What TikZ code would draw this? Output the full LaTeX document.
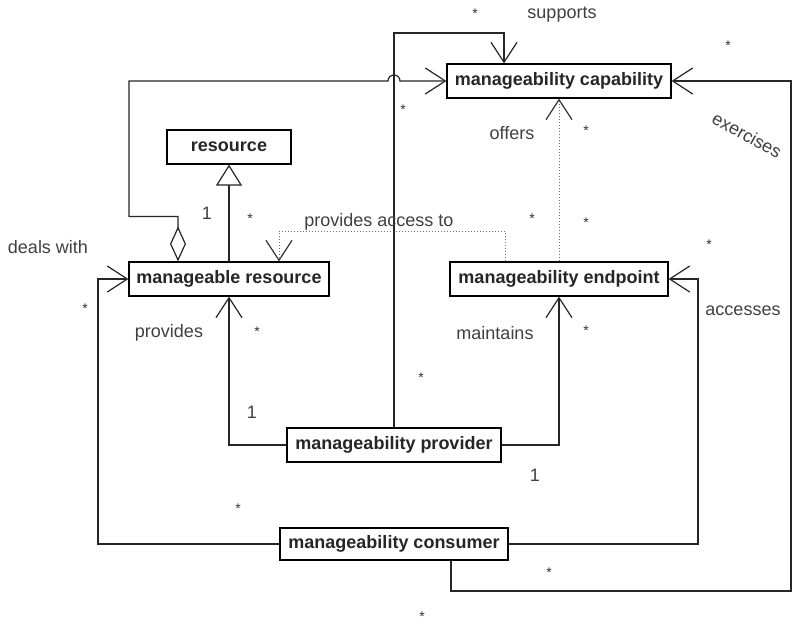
\documentclass[tikz,border=0pt]{standalone}
\usepackage{fontspec}
\setmainfont{Liberation Sans}
\usetikzlibrary{arrows.meta,calc}

\tikzset{
  cls/.style={draw, line width=1.2pt, fill=white, text=black!85,
    font=\fontsize{18}{21}\selectfont\bfseries, inner sep=0pt, minimum height=34pt},
  assoc/.style={line width=1.2pt, draw=black!85,
    -{Straight Barb[length=20pt,width=26pt,line width=1.2pt]}},
  dep/.style={line width=1pt, draw=black!55, dash pattern=on 1pt off 2pt,
    -{Straight Barb[length=20pt,width=26pt,line width=1.2pt,color=black!80]}},
  gen/.style={line width=1.2pt, draw=black!85,
    -{Triangle[open,length=21pt,width=26pt,line width=1.2pt,fill=white]}},
  aggr/.style={line width=1.2pt, draw=black!85,
    {Diamond[open,length=35pt,width=16pt,line width=1.2pt,fill=white]}-{Straight Barb[length=20pt,width=26pt,line width=1.2pt]}},
  lbl/.style={font=\fontsize{18}{21}\selectfont, text=black!75, inner sep=0pt},
  mult/.style={font=\fontsize{14}{14}\selectfont, text=black!80, inner sep=0pt, yshift=-3pt}
}

\begin{document}
\begin{tikzpicture}[x=1pt, y=-1pt]
    %% Background
    \useasboundingbox[fill=white] (0,0) rectangle (793,625);

    %% Classes
    \node[cls, minimum width=224pt] (cap)  at (559,81)  {manageability capability};
    \node[cls, minimum width=124pt] (res)  at (229,147) {resource};
    \node[cls, minimum width=200pt] (mres) at (229,279) {manageable resource};
    \node[cls, minimum width=218pt] (endp) at (559,279) {manageability endpoint};
    \node[cls, minimum width=214pt] (prov) at (394,445) {manageability provider};
    \node[cls, minimum width=228pt, minimum height=32pt] (cons) at (394,544) {manageability consumer};

    %% Relations
    \draw[gen] (mres.north) -- (res.south);
    \draw[aggr] ([xshift=-51pt]mres.north) -- ++(0,-45) -| (129,81)
        -- (388,81) arc[start angle=180, end angle=0, radius=6pt] -- (cap.west);
    \draw[dep] ([xshift=-54pt]endp.north) -- ++(0,-30) -| ([xshift=50pt]mres.north);
    \draw[dep] (endp.north) -- (cap.south);
    \draw[assoc] (prov.west) -| (mres.south);
    \draw[assoc] (prov.east) -| (endp.south);
    \draw[assoc] (prov.north) |- (504,33) -- ([xshift=-55pt]cap.north);
    \draw[assoc] (cons.west) -| (98,279) -- (mres.west);
    \draw[assoc] (cons.east) -| (698,279) -- (endp.east);
    \draw[assoc] ([xshift=57pt]cons.south) |- (791,591) |- (cap.east);

    %% Role names
    \node[lbl] (supports) at (562,15)  {supports};
    \node[lbl] (offers)   at (512,133) {offers};
    \node[lbl, rotate=-29] (exercises) at (747,135) {exercises};
    \node[lbl] (dealswith) at (48,247) {deals with};
    \node[lbl] (access)   at (379,222) {provides access to};
    \node[lbl] (provides) at (169,333) {provides};
    \node[lbl] (maintains) at (495,333) {maintains};
    \node[lbl] (accesses) at (743,311) {accesses};

    %% Multiplicities
    \node[lbl] (one1) at (207,213) {1};
    \node[lbl] (one2) at (252,412) {1};
    \node[lbl] (one3) at (535,475) {1};
    \foreach \x/\y [count=\i] in {475/11, 403/107, 728/43, 586/128, 532/216, 586/220,
        709/242, 250/216, 85/306, 257/329, 586/328, 421/375, 238/506, 549/570, 422/614}
      \node[mult] (many\i) at (\x,\y) {*};

\end{tikzpicture}
\end{document}
